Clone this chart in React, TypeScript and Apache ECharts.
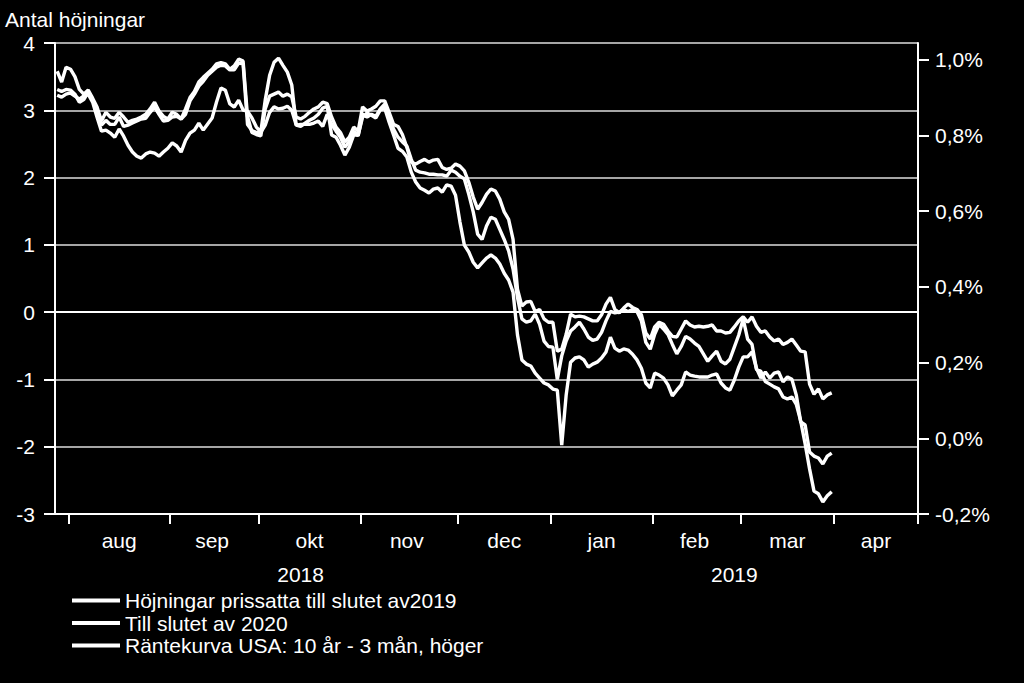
import React, { useEffect, useRef } from 'react';
import * as echarts from 'echarts';

const FONT = '"Liberation Sans", Arial, Helvetica, sans-serif';

// Business-day category axis (weekdays) shown on the chart
const START_DATE = '2018-07-27';
const END_DATE = '2019-04-25';
const MONTH_NAMES = ['jan', 'feb', 'mar', 'apr', 'maj', 'jun', 'jul', 'aug', 'sep', 'okt', 'nov', 'dec'];

const TITLE = 'Antal höjningar';
const SERIES_NAMES = [
  'Höjningar prissatta till slutet av2019',
  'Till slutet av 2020',
  'Räntekurva USA: 10 år - 3 mån, höger',
];

// Left axis
const LEFT_MIN = -3;
const LEFT_MAX = 4;
const LEFT_INTERVAL = 1;
// Right axis (%)
const RIGHT_MIN = -0.2;
const RIGHT_MAX = 1.044;
const RIGHT_TICKS = [-0.2, 0, 0.2, 0.4, 0.6, 0.8, 1.0];

// Daily values from 2018-07-27 (first weekday on axis) to 2019-03-29
const hikes2019 = [
  3.58, 3.42, 3.64, 3.61, 3.5, 3.31, 3.24, 3.3, 3.18, 3.05,
  2.84, 2.97, 2.9, 2.88, 2.97, 2.9, 2.82, 2.85, 2.87, 2.9,
  2.94, 3.02, 3.12, 2.99, 2.91, 2.87, 2.97, 2.94, 2.87, 3.02,
  3.19, 3.28, 3.42, 3.49, 3.55, 3.61, 3.69, 3.71, 3.69, 3.61,
  3.66, 3.76, 3.73, 2.91, 2.67, 2.64, 2.62, 3.02, 3.21, 3.24,
  3.27, 3.21, 3.24, 3.2, 2.9, 2.87, 2.91, 2.97, 3.02, 3.05,
  3.12, 3.1, 2.9, 2.75, 2.67, 2.53, 2.6, 2.75, 2.69, 3.05,
  2.99, 3.02, 3.06, 3.14, 3.14, 2.97, 2.79, 2.76, 2.64, 2.45,
  2.23, 2.2, 2.24, 2.27, 2.23, 2.26, 2.27, 2.15, 2.12, 2.14,
  2.2, 2.17, 2.1, 1.93, 1.71, 1.53, 1.63, 1.75, 1.83, 1.8,
  1.68, 1.49, 1.38, 1.08, 0.34, 0.09, 0.15, 0.16, 0.01, 0.04,
  -0.1, -0.15, -0.15, -0.58, -0.55, -0.33, -0.03, -0.07, -0.06, -0.07,
  -0.1, -0.13, -0.13, -0.04, 0.12, 0.22, 0.04, -0.01, 0.06, 0.12,
  0.07, 0.04, -0.04, -0.31, -0.4, -0.22, -0.15, -0.18, -0.28, -0.36,
  -0.37, -0.25, -0.13, -0.19, -0.22, -0.21, -0.22, -0.21, -0.19, -0.28,
  -0.28, -0.31, -0.3, -0.22, -0.13, -0.07, -0.15, -0.07, -0.21, -0.3,
  -0.28, -0.37, -0.43, -0.4, -0.48, -0.45, -0.4, -0.49, -0.58, -0.59,
  -1.07, -1.22, -1.14, -1.29, -1.23, -1.2,
];

const hikes2020 = [
  3.31, 3.28, 3.31, 3.3, 3.24, 3.12, 3.16, 3.27, 3.16, 2.99,
  2.78, 2.85, 2.79, 2.79, 2.9, 2.76, 2.78, 2.81, 2.84, 2.87,
  2.88, 2.97, 3.05, 2.94, 2.84, 2.85, 2.9, 2.91, 2.87, 2.94,
  3.14, 3.24, 3.36, 3.43, 3.52, 3.58, 3.64, 3.67, 3.66, 3.6,
  3.6, 3.7, 3.69, 2.79, 2.7, 2.67, 2.67, 2.78, 2.97, 3.05,
  3.02, 3.03, 3.06, 3.0, 2.78, 2.79, 2.79, 2.79, 2.81, 2.84,
  2.76, 2.94, 2.79, 2.69, 2.6, 2.45, 2.54, 2.69, 2.62, 2.94,
  2.9, 2.94, 2.91, 3.02, 3.09, 2.9, 2.72, 2.6, 2.53, 2.47,
  2.27, 2.11, 2.08, 2.07, 2.05, 2.05, 2.04, 2.04, 2.02, 2.11,
  2.08, 2.02, 1.98, 1.75, 1.49, 1.16, 1.08, 1.28, 1.41, 1.38,
  1.23, 1.08, 0.91, 0.64, 0.22, -0.1, -0.15, -0.13, -0.03, -0.18,
  -0.43, -0.51, -0.52, -1.0, -0.65, -0.43, -0.28, -0.22, -0.15, -0.25,
  -0.37, -0.42, -0.4, -0.3, -0.13, 0.01, -0.01, 0.0, 0.04, 0.01,
  0.04, 0.01, -0.13, -0.45, -0.55, -0.33, -0.18, -0.25, -0.33, -0.48,
  -0.62, -0.51, -0.36, -0.4, -0.46, -0.51, -0.62, -0.73, -0.65, -0.58,
  -0.73, -0.77, -0.7, -0.52, -0.34, -0.1, -0.4, -0.48, -0.85, -0.88,
  -1.03, -1.07, -1.11, -1.14, -1.26, -1.29, -1.26, -1.37, -1.62, -1.96,
  -2.33, -2.66, -2.7, -2.82, -2.73, -2.67,
];

// US yield curve 10y - 3m, percent (right axis)
const curve10y3m = [
  0.906, 0.901, 0.909, 0.912, 0.904, 0.896, 0.904, 0.909, 0.888, 0.848,
  0.811, 0.814, 0.806, 0.795, 0.817, 0.798, 0.774, 0.756, 0.745, 0.74,
  0.751, 0.756, 0.753, 0.745, 0.756, 0.766, 0.78, 0.772, 0.756, 0.787,
  0.806, 0.814, 0.832, 0.814, 0.83, 0.846, 0.888, 0.925, 0.919, 0.883,
  0.875, 0.893, 0.867, 0.864, 0.846, 0.822, 0.809, 0.893, 0.959, 0.993,
  1.004, 0.985, 0.967, 0.933, 0.827, 0.824, 0.832, 0.84, 0.846, 0.856,
  0.872, 0.877, 0.801, 0.795, 0.774, 0.748, 0.769, 0.801, 0.801, 0.848,
  0.859, 0.853, 0.846, 0.867, 0.872, 0.835, 0.801, 0.766, 0.758, 0.743,
  0.703, 0.677, 0.661, 0.655, 0.648, 0.658, 0.661, 0.65, 0.669, 0.666,
  0.642, 0.571, 0.51, 0.492, 0.465, 0.45, 0.463, 0.476, 0.484, 0.476,
  0.46, 0.436, 0.418, 0.386, 0.273, 0.207, 0.196, 0.191, 0.172, 0.159,
  0.146, 0.141, 0.13, 0.127, -0.018, 0.114, 0.201, 0.212, 0.215, 0.207,
  0.188, 0.196, 0.201, 0.212, 0.228, 0.267, 0.238, 0.23, 0.236, 0.233,
  0.222, 0.207, 0.185, 0.146, 0.133, 0.172, 0.167, 0.159, 0.141, 0.112,
  0.127, 0.141, 0.175, 0.167, 0.164, 0.162, 0.162, 0.162, 0.167, 0.17,
  0.146, 0.133, 0.127, 0.154, 0.188, 0.215, 0.215, 0.228, 0.185, 0.159,
  0.175, 0.159, 0.172, 0.175, 0.149, 0.162, 0.156, 0.114, 0.043, 0.035,
  -0.036, -0.047, -0.052, -0.068, -0.047, -0.039,
];

function weekdays(start: string, end: string): string[] {
  const out: string[] = [];
  const d = new Date(start + 'T00:00:00Z');
  const e = new Date(end + 'T00:00:00Z');
  while (d <= e) {
    const w = d.getUTCDay();
    if (w !== 0 && w !== 6) out.push(d.toISOString().slice(0, 10));
    d.setUTCDate(d.getUTCDate() + 1);
  }
  return out;
}

function groupMiddles(cats: string[], keyLen: number, minCount: number): Set<number> {
  const groups: { start: number; n: number }[] = [];
  let prev = '';
  cats.forEach((c, i) => {
    const k = c.slice(0, keyLen);
    if (k !== prev) {
      groups.push({ start: i, n: 1 });
      prev = k;
    } else {
      groups[groups.length - 1].n++;
    }
  });
  const s = new Set<number>();
  groups.forEach((g) => {
    if (g.n >= minCount) s.add(g.start + Math.floor((g.n - 1) / 2));
  });
  return s;
}

export default function App() {
  const ref = useRef<HTMLDivElement>(null);

  useEffect(() => {
    if (!ref.current) return;
    const chart = echarts.init(ref.current, undefined, { renderer: 'svg' });

    const dates = weekdays(START_DATE, END_DATE);
    const monthStarts = new Set<number>();
    dates.forEach((d, i) => {
      if (i > 0 && d.slice(0, 7) !== dates[i - 1].slice(0, 7)) monthStarts.add(i);
    });
    const monthLabels = groupMiddles(dates, 7, 10);
    const yearLabels = groupMiddles(dates, 4, 10);

    const white = '#ffffff';
    const lineSeries = (name: string, data: number[], yAxisIndex: number) => ({
      name,
      type: 'line',
      data,
      xAxisIndex: 0,
      yAxisIndex,
      symbol: 'none',
      showSymbol: false,
      lineStyle: { color: white, width: 3.4 },
      itemStyle: { color: white },
      emphasis: { disabled: true },
      z: 3,
    });

    const s1: any = lineSeries(SERIES_NAMES[0], hikes2019, 0);
    s1.markLine = {
      silent: true,
      symbol: 'none',
      label: { show: false },
      lineStyle: { color: white, width: 2, type: 'solid' },
      data: [{ yAxis: 0 }],
      z: 1,
    };

    const option: any = {
      animation: false,
      backgroundColor: '#000000',
      textStyle: { fontFamily: FONT, color: white },
      title: {
        text: TITLE,
        left: 5,
        top: 9,
        padding: 0,
        textStyle: { color: white, fontSize: 21, fontWeight: 'normal', fontFamily: FONT },
      },
      grid: { left: 55, right: 106, top: 43, bottom: 169 },
      legend: {
        orient: 'vertical',
        left: 72,
        top: 590,
        padding: 0,
        itemWidth: 48,
        itemHeight: 4,
        itemGap: 1.5,
        icon: 'rect',
        selectedMode: false,
        textStyle: { color: white, fontSize: 21, fontFamily: FONT },
        data: SERIES_NAMES.map((n) => ({ name: n, itemStyle: { color: white } })),
      },
      xAxis: [
        {
          type: 'category',
          data: dates,
          boundaryGap: true,
          position: 'bottom',
          axisLine: { show: true, onZero: false, lineStyle: { color: white, width: 2 } },
          axisTick: {
            show: true,
            interval: (i: number) => monthStarts.has(i),
            length: 10,
            lineStyle: { color: white, width: 2 },
          },
          axisLabel: {
            interval: (i: number) => monthLabels.has(i),
            formatter: (v: string) => MONTH_NAMES[parseInt(v.slice(5, 7), 10) - 1],
            color: white,
            fontSize: 21,
            fontFamily: FONT,
            margin: 16,
          },
          splitLine: { show: false },
        },
        {
          type: 'category',
          data: dates,
          boundaryGap: true,
          position: 'bottom',
          axisLine: { show: false },
          axisTick: { show: false },
          axisLabel: {
            interval: (i: number) => yearLabels.has(i),
            formatter: (v: string) => v.slice(0, 4),
            color: white,
            fontSize: 21,
            fontFamily: FONT,
            margin: 50,
          },
          splitLine: { show: false },
        },
      ],
      yAxis: [
        {
          type: 'value',
          position: 'left',
          min: LEFT_MIN,
          max: LEFT_MAX,
          interval: LEFT_INTERVAL,
          axisLine: { show: true, lineStyle: { color: white, width: 2 } },
          axisTick: { show: true, length: 11, lineStyle: { color: white, width: 2 } },
          axisLabel: { color: white, fontSize: 21, fontFamily: FONT, margin: 20 },
          splitLine: { show: true, lineStyle: { color: '#a6a6a6', width: 2 } },
        },
        {
          type: 'value',
          position: 'right',
          min: RIGHT_MIN,
          max: RIGHT_MAX,
          interval: 0.2,
          axisLine: { show: true, lineStyle: { color: white, width: 2 } },
          axisTick: {
            show: true,
            length: 11,
            customValues: RIGHT_TICKS,
            lineStyle: { color: white, width: 2 },
          },
          axisLabel: {
            customValues: RIGHT_TICKS,
            color: white,
            fontSize: 21,
            fontFamily: FONT,
            margin: 17,
            formatter: (v: number) => {
              if (Math.abs(v * 5 - Math.round(v * 5)) > 1e-6) return '';
              return v.toFixed(1).replace('.', ',') + '%';
            },
          },
          splitLine: { show: false },
        },
      ],
      series: [
        s1,
        lineSeries(SERIES_NAMES[1], hikes2020, 0),
        lineSeries(SERIES_NAMES[2], curve10y3m, 1),
      ],
    };

    chart.setOption(option);
    return () => {
      chart.dispose();
    };
  }, []);

  return (
    <div
      ref={ref}
      style={{ position: 'fixed', left: 0, top: 0, width: 1024, height: 683, background: '#000' }}
    />
  );
}
